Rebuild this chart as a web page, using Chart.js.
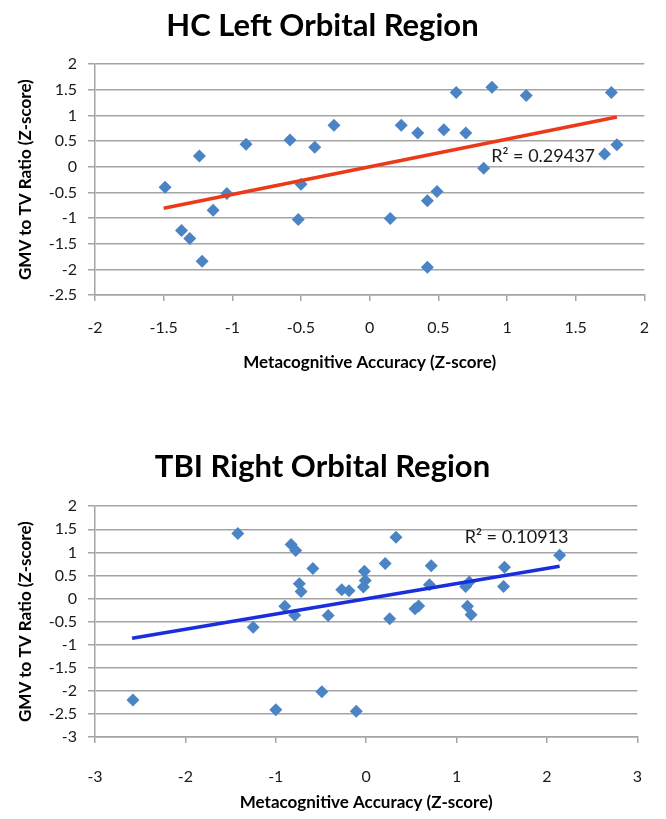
<!DOCTYPE html>
<html lang="en">
<head>
<meta charset="UTF-8">
<title>Orbital Region</title>
<script src="https://cdn.jsdelivr.net/npm/chart.js@4.4.1/dist/chart.umd.min.js"></script>
<style>
  body { margin: 0; background: #fff; width: 666px; height: 819px; overflow: hidden; position: relative; }
  canvas { position: absolute; left: 0; }
  #hcChart { top: 0; }
  #tbiChart { top: 420px; }
</style>
</head>
<body>
<canvas id="hcChart" width="666" height="376"></canvas>
<canvas id="tbiChart" width="666" height="396"></canvas>
<script>
// HC left orbital region
const hcAccuracy = [-1.49, -1.37, -1.31, -1.24, -1.22, -1.14, -1.04, -0.90, -0.58, -0.52, -0.50, -0.40, -0.26,
  0.15, 0.23, 0.35, 0.42, 0.42, 0.49, 0.54, 0.63, 0.70, 0.83, 0.89, 1.14, 1.71, 1.76, 1.80];
const hcRatio = [-0.40, -1.24, -1.40, 0.21, -1.84, -0.85, -0.52, 0.44, 0.52, -1.03, -0.34, 0.38, 0.81,
  -1.01, 0.81, 0.66, -0.66, -1.96, -0.48, 0.72, 1.45, 0.66, -0.03, 1.55, 1.39, 0.25, 1.45, 0.43];
const hcTrendX = [-1.5, 1.8];
const hcTrendY = [-0.81, 0.97];
const hcR2 = 'R² = 0.29437';

// TBI right orbital region
const tbiAccuracy = [-2.58, -1.42, -1.25, -1.00, -0.90, -0.83, -0.78, -0.79, -0.74, -0.72, -0.59, -0.49, -0.42,
  -0.27, -0.19, -0.11, -0.02, -0.01, -0.03, 0.21, 0.33, 0.26, 0.54, 0.58, 0.72, 0.70, 1.10, 1.14, 1.12, 1.16,
  1.53, 1.52, 2.14];
const tbiRatio = [-2.20, 1.41, -0.62, -2.41, -0.17, 1.17, 1.04, -0.36, 0.32, 0.15, 0.65, -2.02, -0.37,
  0.19, 0.17, -2.44, 0.59, 0.39, 0.25, 0.76, 1.33, -0.44, -0.22, -0.16, 0.71, 0.30, 0.26, 0.36, -0.17, -0.35,
  0.68, 0.26, 0.94];
const tbiTrendX = [-2.59, 2.14];
const tbiTrendY = [-0.86, 0.70];
const tbiR2 = 'R² = 0.10913';

const xTitle = 'Metacognitive Accuracy (Z-score)';
const yTitle = 'GMV to TV Ratio (Z-score)';

const gridGray = '#a4a4a4';
const tickFont = { family: 'Lato', size: 16 };
const axisTitleFont = { family: 'Lato', size: 17, weight: 'bold', lineHeight: 1.2 };

// draws the R² text next to the trend line
const r2Label = {
  id: 'r2Label',
  afterDatasetsDraw(chart, args, opts) {
    const ctx = chart.ctx;
    ctx.save();
    ctx.font = '18px Lato';
    ctx.fillStyle = '#1a1a1a';
    ctx.textBaseline = 'middle';
    ctx.fillText(opts.text, chart.scales.x.getPixelForValue(opts.at[0]), chart.scales.y.getPixelForValue(opts.at[1]));
    ctx.restore();
  }
};

function makeChart(id, o) {
  const points = o.xs.map((x, i) => ({ x: x, y: o.ys[i] }));
  const trend = o.trendX.map((x, i) => ({ x: x, y: o.trendY[i] }));
  return new Chart(id, {
    type: 'scatter',
    data: {
      datasets: [
        { data: points, pointStyle: 'rectRot', pointRadius: 6.5, pointHoverRadius: 6.5,
          backgroundColor: '#4a84c4', borderColor: '#4a84c4', borderWidth: 0, order: 1 },
        { type: 'line', data: trend, borderColor: o.lineColor, borderWidth: 3.5,
          pointRadius: 0, fill: false, order: 0 }
      ]
    },
    options: {
      responsive: false,
      animation: false,
      layout: { padding: { left: 0, right: 21, top: 0, bottom: 0 } },
      plugins: {
        legend: { display: false },
        tooltip: { enabled: false },
        title: {
          display: true, text: o.title, color: '#000',
          font: { family: 'Lato', size: 31, weight: 'bold', lineHeight: 1.2 },
          padding: { top: o.titleTop, bottom: o.titleBottom }
        },
        r2Label: { text: o.r2, at: o.r2At }
      },
      scales: {
        x: {
          type: 'linear', min: o.xMin, max: o.xMax,
          ticks: { stepSize: o.xStep, color: '#1a1a1a', font: tickFont, padding: o.xTickPad,
            maxRotation: 0, autoSkip: false, callback: v => String(v) },
          grid: { drawOnChartArea: false, drawTicks: true, tickLength: 6, color: gridGray, lineWidth: 1.5 },
          border: { color: gridGray, width: 1.5 },
          title: { display: true, text: xTitle, color: '#000', font: axisTitleFont, padding: { top: 0, bottom: 3 } },
          afterFit: s => { s.height = o.xAxisH; }
        },
        y: {
          min: o.yMin, max: 2,
          ticks: { stepSize: 0.5, color: '#1a1a1a', font: tickFont, padding: 11, autoSkip: false,
            callback: v => String(v) },
          grid: { color: gridGray, lineWidth: 1.5, tickLength: 7 },
          border: { color: gridGray, width: 1.5 },
          title: { display: true, text: yTitle, color: '#000', font: axisTitleFont, padding: { top: 15, bottom: 0 } },
          afterFit: s => { s.width = 95; }
        }
      }
    },
    plugins: [r2Label]
  });
}

makeChart('hcChart', {
  title: 'HC Left Orbital Region', xs: hcAccuracy, ys: hcRatio,
  trendX: hcTrendX, trendY: hcTrendY, lineColor: '#ec3a18',
  r2: hcR2, r2At: [0.885, 0.21],
  xMin: -2, xMax: 2, xStep: 0.5, yMin: -2.5,
  titleTop: 7, titleBottom: 20, xTickPad: 17, xAxisH: 81
});

makeChart('tbiChart', {
  title: 'TBI Right Orbital Region', xs: tbiAccuracy, ys: tbiRatio,
  trendX: tbiTrendX, trendY: tbiTrendY, lineColor: '#1a2fdc',
  r2: tbiR2, r2At: [1.09, 1.33],
  xMin: -3, xMax: 3, xStep: 1, yMin: -3,
  titleTop: 28, titleBottom: 21, xTickPad: 24, xAxisH: 79
});
</script>
</body>
</html>
